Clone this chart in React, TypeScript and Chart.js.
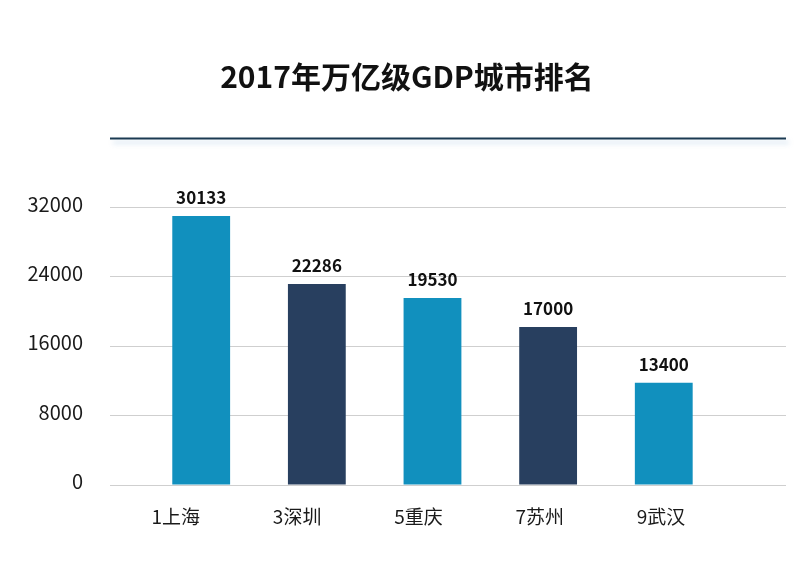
import React, { useEffect, useRef } from 'react';
import { Chart, registerables } from 'chart.js';

Chart.register(...registerables);

const TITLE = '2017年万亿级GDP城市排名';
const cities = ['1上海', '3深圳', '5重庆', '7苏州', '9武汉'];
const barValues = [31020, 23180, 21560, 18220, 11800];
const valueLabels = ['30133', '22286', '19530', '17000', '13400'];
const barColors = ['#1190be', '#283f5f', '#1190be', '#283f5f', '#1190be'];
const yTicks = [0, 8000, 16000, 24000, 32000];

const FONT = "'Noto Sans CJK SC', 'Noto Sans', sans-serif";

const positionsTicks = (s: any) => {
  s.ticks = cities.map((_, i) => ({ value: i + 1 }));
};

const overlay = {
  id: 'overlay',
  afterDatasetsDraw(chart: any) {
    const ctx = chart.ctx;
    const meta = chart.getDatasetMeta(0);
    ctx.save();
    ctx.font = `bold 17px ${FONT}`;
    ctx.fillStyle = '#111111';
    ctx.textAlign = 'center';
    ctx.textBaseline = 'middle';
    meta.data.forEach((bar: any, i: number) => {
      ctx.fillText(valueLabels[i], bar.x, bar.y - 18);
    });
    ctx.restore();
  },
  afterDraw(chart: any) {
    const ctx = chart.ctx;
    const area = chart.chartArea;
    ctx.save();
    ctx.font = `bold 30px ${FONT}`;
    ctx.fillStyle = '#111111';
    ctx.textAlign = 'center';
    ctx.textBaseline = 'middle';
    ctx.fillText(TITLE, 407, 77);
    ctx.restore();

    ctx.save();
    ctx.shadowColor = 'rgba(110,160,205,0.35)';
    ctx.shadowBlur = 5;
    ctx.shadowOffsetX = 3;
    ctx.shadowOffsetY = 4;
    ctx.strokeStyle = '#1b3a52';
    ctx.lineWidth = 2;
    ctx.beginPath();
    ctx.moveTo(area.left, 138.5);
    ctx.lineTo(area.right, 138.5);
    ctx.stroke();
    ctx.restore();
  },
};

export default function App() {
  const ref = useRef<HTMLCanvasElement>(null);

  useEffect(() => {
    if (!ref.current) return;
    const chart = new Chart(ref.current, {
      type: 'bar',
      data: {
        datasets: [
          {
            data: barValues.map((v, i) => ({ x: i + 1, y: v })),
            backgroundColor: barColors,
            borderWidth: 0,
            xAxisID: 'xb',
            yAxisID: 'y',
            categoryPercentage: 1,
            barPercentage: 0.5,
          },
        ],
      },
      options: {
        animation: false,
        responsive: false,
        devicePixelRatio: 1,
        layout: { padding: { top: 207.5, right: 11, bottom: 0, left: 0 } },
        plugins: {
          legend: { display: false },
          tooltip: { enabled: false },
          title: { display: false },
        },
        scales: {
          xb: {
            type: 'linear',
            axis: 'x',
            position: 'bottom',
            display: false,
            offset: false,
            min: 0.2114,
            max: 6.057,
            afterBuildTicks: positionsTicks,
          },
          x: {
            type: 'linear',
            position: 'bottom',
            offset: false,
            min: 0.4575,
            max: 6.03,
            afterBuildTicks: positionsTicks,
            grid: { display: false },
            border: { display: false },
            ticks: {
              callback: (v: any) => cities[Math.round(v) - 1],
              autoSkip: false,
              maxRotation: 0,
              padding: 12,
              font: { family: FONT, size: 19 },
              color: '#1a1a1a',
            },
            afterFit: (s: any) => {
              s.height = 90;
            },
          },
          y: {
            type: 'linear',
            min: 0,
            max: 32000,
            afterBuildTicks: (s: any) => {
              s.ticks = yTicks.map((v) => ({ value: v }));
            },
            grid: { color: '#cfcfcf', drawTicks: false, lineWidth: 1 },
            border: { display: false },
            ticks: {
              callback: (v: any) => String(v),
              padding: 27,
              labelOffset: -3.5,
              font: { family: FONT, size: 20 },
              color: '#1a1a1a',
            },
            afterFit: (s: any) => {
              s.width = 110;
            },
          },
        },
      } as any,
      plugins: [overlay],
    });
    return () => chart.destroy();
  }, []);

  return (
    <div style={{ position: 'absolute', left: 0, top: 0, background: '#ffffff' }}>
      <canvas ref={ref} width={797} height={575} style={{ display: 'block' }} />
    </div>
  );
}
